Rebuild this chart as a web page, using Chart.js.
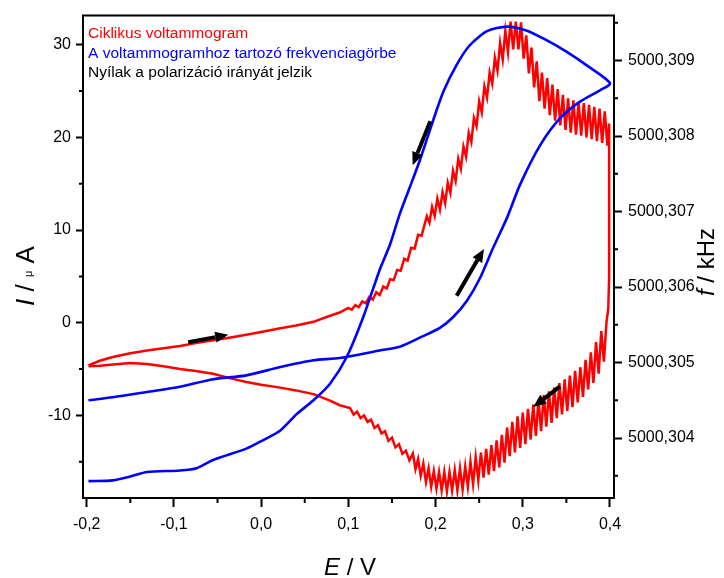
<!DOCTYPE html>
<html>
<head>
<meta charset="utf-8">
<script src="https://cdn.jsdelivr.net/npm/chart.js@4/dist/chart.umd.min.js"></script>
<style>
  body { margin: 0; background: #fff; }
  #wrap { width: 724px; height: 578px; }
</style>
</head>
<body>
<div id="wrap"><canvas id="cv" width="724" height="578"></canvas></div>
<script>
// ---- adatok (leolvasva az abrarol) ----

// ciklikus voltammogram, anodos ag (-0,2 V -> 0,4 V), E / V es I / uA
const redForwardE = [
  -0.198, -0.185, -0.170, -0.150, -0.131, -0.112, -0.093, -0.075, -0.055, -0.035, -0.017, 0.000, 0.022, 0.040, 0.060, 0.079, 0.090,
  0.100, 0.104, 0.108, 0.112, 0.116, 0.120, 0.124, 0.128, 0.132, 0.136, 0.140, 0.144, 0.148, 0.152, 0.156, 0.160, 0.164, 0.168, 0.172, 0.176, 0.180, 0.184,
  0.190, 0.193, 0.196, 0.199, 0.202, 0.205, 0.208, 0.211, 0.214, 0.217,
  0.220, 0.223, 0.226, 0.229, 0.232, 0.235, 0.238, 0.241, 0.244, 0.247,
  0.250, 0.253, 0.256, 0.259, 0.262, 0.265, 0.268, 0.271, 0.274, 0.277,
  0.280, 0.283, 0.286, 0.289, 0.292, 0.295, 0.298, 0.301, 0.304, 0.307,
  0.310, 0.313, 0.316, 0.319, 0.322, 0.325, 0.328, 0.331, 0.334, 0.337,
  0.340, 0.343, 0.346, 0.349, 0.352, 0.355, 0.358, 0.361, 0.364, 0.367,
  0.370, 0.373, 0.376, 0.379, 0.382, 0.385, 0.388, 0.391, 0.394, 0.397,
  0.399, 0.399, 0.398
];
const redForwardI = [
  -4.6, -4.1, -3.7, -3.3, -3.0, -2.75, -2.5, -2.2, -1.9, -1.6, -1.3, -1.0, -0.6, -0.3, 0.1, 0.75, 1.1,
  1.6, 1.4, 1.9, 1.7, 2.3, 2.1, 2.8, 2.5, 3.3, 3.0, 3.9, 3.7, 4.7, 4.6, 5.7, 5.6, 6.9, 6.7, 8.1, 8.0, 9.5, 9.4,
  11.5, 10.8, 12.5, 11.5, 13.4, 12.2, 14.1, 12.9, 15.1, 14.0,
  16.4, 15.3, 17.7, 16.6, 19.0, 17.9, 20.5, 19.5, 22.1, 21.2,
  23.9, 22.7, 25.5, 24.3, 27.0, 25.8, 28.6, 27.2, 30.2, 28.4,
  31.5, 29.2, 32.5, 29.5, 32.5, 29.5, 32.4, 28.5, 31.0, 26.9,
  29.7, 25.4, 28.2, 23.9, 27.0, 23.1, 26.4, 22.4, 25.7, 21.8,
  25.2, 21.3, 24.6, 20.8, 24.2, 20.5, 24.0, 20.3, 23.8, 20.2,
  23.7, 20.0, 23.5, 19.8, 23.3, 19.6, 23.1, 19.4, 22.8, 19.1,
  21.5, 5.0, 1.5
];

// katodos ag (0,4 V -> -0,2 V)
const redReverseE = [
  0.396, 0.393, 0.390, 0.387, 0.384, 0.381, 0.378, 0.375, 0.372, 0.369,
  0.366, 0.363, 0.360, 0.357, 0.354, 0.351, 0.348, 0.345, 0.342, 0.339,
  0.336, 0.333, 0.330, 0.327, 0.324, 0.321, 0.318, 0.315, 0.312, 0.309,
  0.306, 0.303, 0.300, 0.297, 0.294, 0.291, 0.288, 0.285, 0.282, 0.279,
  0.276, 0.273, 0.270, 0.267, 0.264, 0.261, 0.258, 0.255, 0.252, 0.249,
  0.246, 0.243, 0.240, 0.237, 0.234, 0.231, 0.228, 0.225, 0.222, 0.219,
  0.216, 0.213, 0.210, 0.207, 0.204, 0.201, 0.198, 0.195, 0.192, 0.189,
  0.186, 0.183, 0.180, 0.177, 0.174,
  0.170, 0.166, 0.162, 0.158, 0.154, 0.150, 0.146, 0.142, 0.138, 0.134, 0.130, 0.126, 0.122, 0.118, 0.114, 0.110, 0.106, 0.102,
  0.090, 0.079, 0.060, 0.040, 0.022, 0.000, -0.017, -0.035, -0.055, -0.075, -0.093, -0.112, -0.131, -0.150, -0.170, -0.185, -0.198
];
const redReverseI = [
  0.1, -4.2, -0.9, -5.5, -2.1, -6.5, -3.2, -7.2, -4.0, -8.0,
  -4.8, -8.6, -5.2, -9.1, -5.7, -9.5, -6.1, -9.9, -6.5, -10.3,
  -7.0, -10.8, -7.4, -11.2, -7.8, -11.7, -8.3, -12.2, -8.8, -12.6,
  -9.3, -13.1, -9.7, -13.5, -10.1, -14.0, -10.7, -14.4, -11.3, -15.1,
  -12.1, -15.6, -12.7, -16.0, -13.2, -16.4, -13.6, -16.7, -14.0, -17.0,
  -14.5, -17.4, -15.0, -17.7, -15.5, -18.0, -15.7, -18.1, -15.9, -18.1,
  -16.1, -18.2, -16.1, -18.1, -16.1, -17.9, -16.0, -17.7, -15.7, -17.2,
  -15.2, -16.5, -14.7, -15.8, -14.1,
  -14.85, -13.8, -14.15, -13.1, -13.45, -12.4, -12.75, -11.7, -11.95, -11.05, -11.35, -10.45, -10.7, -10.0, -10.3, -9.6, -9.9, -9.2,
  -8.9, -8.4, -7.7, -7.3, -7.0, -6.7, -6.4, -6.0, -5.5, -5.2, -5.0, -4.7, -4.45, -4.35, -4.5, -4.65, -4.7
];

// frekvenciagorbe, f / kHz
const blueE = [
  -0.198, -0.170, -0.131, -0.093, -0.055, -0.017, 0.022, 0.060, 0.090, 0.136, 0.159, 0.182, 0.205, 0.220,
  0.236, 0.251, 0.266, 0.282, 0.297, 0.320, 0.343, 0.366, 0.389, 0.400,
  0.373, 0.350, 0.324, 0.304, 0.282, 0.259, 0.239, 0.224, 0.209, 0.197, 0.182, 0.173, 0.159, 0.148,
  0.136, 0.117, 0.098, 0.079, 0.060, 0.041, 0.022, 0.002, -0.017, -0.055, -0.074, -0.093, -0.131, -0.150, -0.170, -0.198
];
const blueF = [
  5000.30450, 5000.30454, 5000.30461, 5000.30468, 5000.30478, 5000.30483, 5000.30494, 5000.30503, 5000.30506, 5000.30516, 5000.30521, 5000.30533, 5000.30546, 5000.30560,
  5000.30582, 5000.30612, 5000.30652, 5000.30692, 5000.30736, 5000.30788, 5000.30824, 5000.30846, 5000.30861, 5000.30870,
  5000.30894, 5000.30912, 5000.30929, 5000.30940, 5000.30945, 5000.30939, 5000.30920, 5000.30894, 5000.30859, 5000.30820, 5000.30768, 5000.30740, 5000.30697, 5000.30657,
  5000.30623, 5000.30560, 5000.30507, 5000.30472, 5000.30450, 5000.30432, 5000.30410, 5000.30397, 5000.30386, 5000.30371, 5000.30360, 5000.30357, 5000.30355, 5000.30349, 5000.30344, 5000.30343
];

// tengelyek
const xTicks = [-0.2, -0.1, 0.0, 0.1, 0.2, 0.3, 0.4];
const xMinor = [-0.15, -0.05, 0.05, 0.15, 0.25, 0.35];
const yTicks = [-10, 0, 10, 20, 30];
const yMinor = [-15, -5, 5, 15, 25];
const y1Ticks = [5000.304, 5000.305, 5000.306, 5000.307, 5000.308, 5000.309];
const y1Minor = [5000.3035, 5000.3045, 5000.3055, 5000.3065, 5000.3075, 5000.3085, 5000.3095];

// jelmagyarazat szovegek es szinek
const legendLines = ['Ciklikus voltammogram', 'A voltammogramhoz tartozó frekvenciagörbe', 'Nyílak a polarizáció irányát jelzik'];
const legendColors = ['#ff0000', '#0000ff', '#000000'];

// nyilak (E, I koordinatakban) - kezdo es vegpont
const arrowFromE = [-0.0836, 0.194, 0.2242, 0.3427];
const arrowFromI = [-2.1, 21.75, 2.9, -6.87];
const arrowToE = [-0.0377, 0.1737, 0.2555, 0.312];
const arrowToI = [-1.29, 17.0, 7.97, -9.09];

const FONT = "'Liberation Sans', Arial, sans-serif";

function toPoints(xs, ys) {
    return xs.map((x, i) => ({ x: x, y: ys[i] }));
}

const redPoints = toPoints(redForwardE, redForwardI).concat(toPoints(redReverseE, redReverseI));
const bluePoints = toPoints(blueE, blueF);

function comma(v, d) {
    return v.toFixed(d).replace('.', ',');
}

// egy tengelyfelirat tobb reszbol (dolt / normal / kicsi)
function drawParts(ctx, parts, cx, cy) {
    let total = 0;
    parts.forEach(p => { ctx.font = p.font; p.w = ctx.measureText(p.text).width; total += p.w; });
    let x = cx - total / 2;
    parts.forEach(p => {
        ctx.font = p.font;
        ctx.fillText(p.text, x, cy + (p.dy || 0));
        x += p.w;
    });
}

const extras = {
    id: 'extras',
    afterDatasetsDraw(chart) {
        const ctx = chart.ctx;
        const sx = chart.scales.x, sy = chart.scales.y;
        ctx.save();
        ctx.fillStyle = '#000';
        ctx.strokeStyle = '#000';
        for (let i = 0; i < arrowFromE.length; i++) {
            const x1 = sx.getPixelForValue(arrowFromE[i]), y1 = sy.getPixelForValue(arrowFromI[i]);
            const x2 = sx.getPixelForValue(arrowToE[i]), y2 = sy.getPixelForValue(arrowToI[i]);
            const ang = Math.atan2(y2 - y1, x2 - x1);
            const head = 13, half = 5.5;
            const bx = x2 - head * Math.cos(ang), by = y2 - head * Math.sin(ang);
            ctx.lineWidth = 4;
            ctx.beginPath();
            ctx.moveTo(x1, y1);
            ctx.lineTo(bx, by);
            ctx.stroke();
            ctx.beginPath();
            ctx.moveTo(x2, y2);
            ctx.lineTo(bx + half * Math.sin(ang), by - half * Math.cos(ang));
            ctx.lineTo(bx - half * Math.sin(ang), by + half * Math.cos(ang));
            ctx.closePath();
            ctx.fill();
        }
        ctx.restore();
    },
    afterDraw(chart) {
        const ctx = chart.ctx, a = chart.chartArea;
        const sx = chart.scales.x, sy = chart.scales.y, sy1 = chart.scales.y1;
        ctx.save();
        ctx.strokeStyle = '#000';
        ctx.lineWidth = 2;

        // felso keretvonal
        ctx.beginPath();
        ctx.moveTo(a.left - 1, a.top);
        ctx.lineTo(a.right + 1, a.top);
        ctx.stroke();

        // kis osztasok
        ctx.beginPath();
        xMinor.forEach(v => { const p = sx.getPixelForValue(v); ctx.moveTo(p, a.bottom); ctx.lineTo(p, a.bottom + 5); });
        yMinor.forEach(v => { const p = sy.getPixelForValue(v); ctx.moveTo(a.left, p); ctx.lineTo(a.left - 4, p); });
        y1Minor.forEach(v => { const p = sy1.getPixelForValue(v); ctx.moveTo(a.right, p); ctx.lineTo(a.right + 4, p); });
        ctx.stroke();

        // jelmagyarazat a grafikonon belul
        ctx.textBaseline = 'alphabetic';
        ctx.textAlign = 'left';
        ctx.font = '15.5px ' + FONT;
        legendLines.forEach((t, i) => {
            ctx.fillStyle = legendColors[i];
            ctx.fillText(t, 88, 38 + i * 19.5);
        });

        // tengelycimek
        ctx.fillStyle = '#000';
        drawParts(ctx, [
            { text: 'E', font: 'italic 24px ' + FONT },
            { text: ' / V', font: '24px ' + FONT }
        ], 350, 575);

        ctx.save();
        ctx.translate(34, 276);
        ctx.rotate(-Math.PI / 2);
        drawParts(ctx, [
            { text: 'I', font: 'italic 26px ' + FONT },
            { text: ' / ', font: '26px ' + FONT },
            { text: 'μ', font: '11px ' + FONT, dy: -2 },
            { text: ' A', font: '26px ' + FONT }
        ], 0, 0);
        ctx.restore();

        ctx.save();
        ctx.translate(714, 262);
        ctx.rotate(-Math.PI / 2);
        drawParts(ctx, [
            { text: 'f', font: 'italic 24px ' + FONT },
            { text: ' / kHz', font: '24px ' + FONT }
        ], 0, 0);
        ctx.restore();

        ctx.restore();
    }
};

Chart.defaults.color = '#000';

new Chart(document.getElementById('cv'), {
    type: 'scatter',
    data: {
        datasets: [
            {
                label: legendLines[0],
                data: redPoints,
                yAxisID: 'y',
                showLine: true,
                borderColor: '#ff0000',
                borderWidth: 2.5,
                pointRadius: 0,
                tension: 0,
                order: 2
            },
            {
                label: legendLines[1],
                data: bluePoints,
                yAxisID: 'y1',
                showLine: true,
                borderColor: '#0000ff',
                borderWidth: 2.6,
                pointRadius: 0,
                tension: 0.25,
                order: 1
            }
        ]
    },
    options: {
        responsive: false,
        animation: false,
        devicePixelRatio: 1,
        layout: { padding: { top: 13, left: 0, right: 0, bottom: 0 } },
        plugins: { legend: { display: false }, tooltip: { enabled: false } },
        scales: {
            x: {
                type: 'linear',
                position: 'bottom',
                min: -0.20424,
                max: 0.40459,
                afterBuildTicks: s => { s.ticks = xTicks.map(v => ({ value: v })); },
                afterFit: s => { s.height = 80; },
                ticks: {
                    callback: v => comma(v, 1),
                    font: { family: FONT, size: 16 },
                    color: '#000',
                    padding: 8,
                    maxRotation: 0,
                    autoSkip: false
                },
                grid: { drawOnChartArea: false, tickLength: 9, tickWidth: 2, tickColor: '#000' },
                border: { color: '#000', width: 2 }
            },
            y: {
                type: 'linear',
                position: 'left',
                min: -18.91,
                max: 33.14,
                afterBuildTicks: s => { s.ticks = yTicks.map(v => ({ value: v })); },
                afterFit: s => { s.width = 83; },
                ticks: {
                    callback: v => String(v),
                    font: { family: FONT, size: 16 },
                    color: '#000',
                    padding: 5,
                    autoSkip: false
                },
                grid: { drawOnChartArea: false, tickLength: 7, tickWidth: 2, tickColor: '#000' },
                border: { color: '#000', width: 2 }
            },
            y1: {
                type: 'linear',
                position: 'right',
                min: 5000.303206,
                max: 5000.309596,
                afterBuildTicks: s => { s.ticks = y1Ticks.map(v => ({ value: v })); },
                afterFit: s => { s.width = 110; },
                ticks: {
                    callback: v => comma(v, 3),
                    font: { family: FONT, size: 16 },
                    color: '#000',
                    padding: 6,
                    autoSkip: false
                },
                grid: { drawOnChartArea: false, tickLength: 8, tickWidth: 2, tickColor: '#000' },
                border: { color: '#000', width: 2 }
            }
        }
    },
    plugins: [extras]
});
</script>
</body>
</html>
